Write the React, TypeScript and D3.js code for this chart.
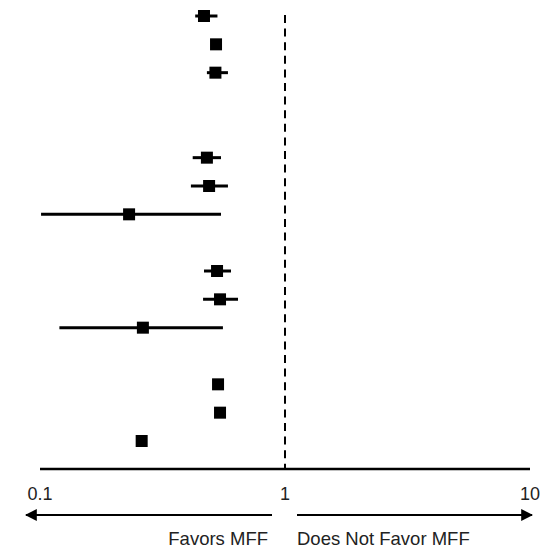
import * as d3 from "d3";

// forest plot rows (row slot, point estimate, CI)
const rowSlot = [0, 1, 2, 5, 6, 7, 9, 10, 11, 13, 14, 15];
const estimate = [0.467, 0.523, 0.52, 0.48, 0.49, 0.231, 0.528, 0.543, 0.263, 0.533, 0.543, 0.26];
const lower: (number | null)[] = [0.43, null, 0.48, 0.42, 0.413, 0.101, 0.467, 0.463, 0.12, null, null, null];
const upper: (number | null)[] = [0.53, null, 0.585, 0.548, 0.585, 0.548, 0.602, 0.643, 0.558, null, null, null];

const tickValues = [0.1, 1, 10];
const tickLabels = ["0.1", "1", "10"];
const leftLabel = "Favors MFF";
const rightLabel = "Does Not Favor MFF";

const width = 552;
const height = 550;
const axisY = 469;
const font = "'Liberation Sans', Arial, sans-serif";

export default function App() {
  const x = d3.scaleLog().domain([0.1, 10]).range([40, 530]);
  const y = d3.scaleLinear().domain([0, 15]).range([16, 441]);
  const sq = 12;

  const rows = rowSlot.map((s, i) => ({
    y: y(s),
    est: estimate[i],
    lo: lower[i],
    hi: upper[i],
  }));

  return (
    <svg
      width={width}
      height={height}
      style={{ position: "absolute", left: 0, top: 0, background: "#fff" }}
    >
      <defs>
        <marker
          id="arrow"
          viewBox="0 0 10 10"
          refX="9"
          refY="5"
          markerWidth="6"
          markerHeight="6"
          markerUnits="strokeWidth"
          orient="auto"
        >
          <path d="M0,0 L10,5 L0,10 Z" fill="#000" />
        </marker>
      </defs>

      {/* reference line at 1 */}
      <line
        x1={x(1)}
        x2={x(1)}
        y1={15}
        y2={axisY}
        stroke="#000"
        strokeWidth={2}
        strokeDasharray="8 5.6"
      />

      {rows.map((r, i) => (
        <g key={i}>
          {r.lo != null && r.hi != null && (
            <line x1={x(r.lo)} x2={x(r.hi)} y1={r.y} y2={r.y} stroke="#000" strokeWidth={3} />
          )}
          <rect x={x(r.est) - sq / 2} y={r.y - sq / 2} width={sq} height={sq} fill="#000" />
        </g>
      ))}

      {/* x axis */}
      <line x1={x(0.1)} x2={x(10)} y1={axisY} y2={axisY} stroke="#000" strokeWidth={2.5} />
      {tickValues.map((t, i) => (
        <text
          key={t}
          x={x(t)}
          y={500}
          textAnchor="middle"
          fontFamily={font}
          fontSize={18}
          fill="#222"
        >
          {tickLabels[i]}
        </text>
      ))}

      {/* direction arrows */}
      <line
        x1={x(1) - 13}
        x2={x(0.1) - 14}
        y1={515}
        y2={515}
        stroke="#000"
        strokeWidth={2}
        markerEnd="url(#arrow)"
      />
      <line
        x1={x(1) + 12}
        x2={x(10) + 2}
        y1={515}
        y2={515}
        stroke="#000"
        strokeWidth={2}
        markerEnd="url(#arrow)"
      />
      <text x={x(1) - 17} y={545} textAnchor="end" fontFamily={font} fontSize={18.5} fill="#222">
        {leftLabel}
      </text>
      <text x={x(1) + 12} y={545} textAnchor="start" fontFamily={font} fontSize={18.5} fill="#222">
        {rightLabel}
      </text>
    </svg>
  );
}
